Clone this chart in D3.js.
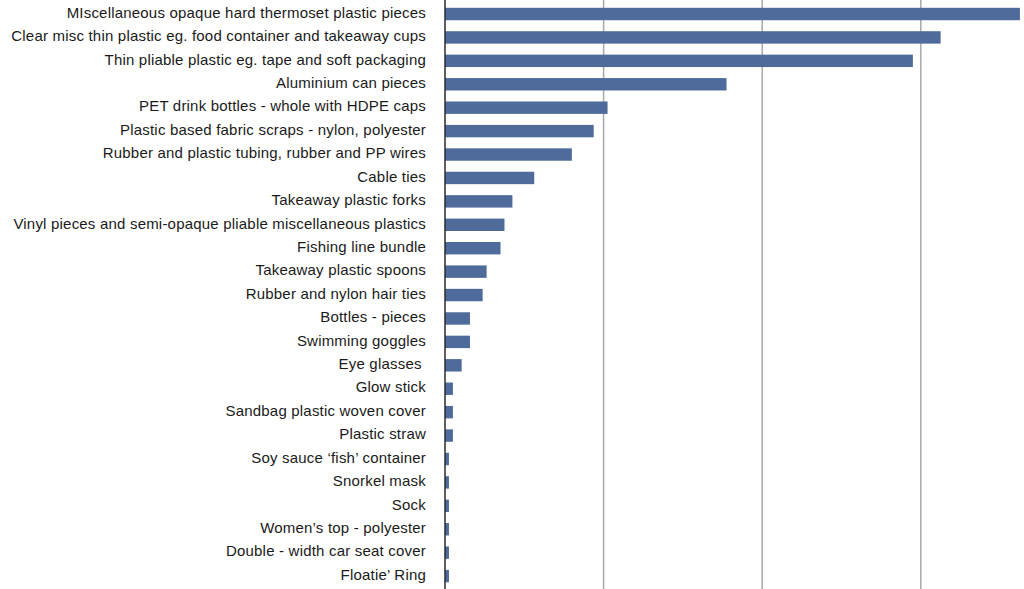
<!DOCTYPE html>
<html>
<head>
<meta charset="utf-8">
<script src="https://cdn.jsdelivr.net/npm/d3@7"></script>
<style>
  html, body { margin: 0; padding: 0; background: #fff; }
  svg { display: block; }
  .label { font-family: "Liberation Sans", Arial, sans-serif; font-size: 15px; letter-spacing: 0.2px; fill: #1a1a1a; white-space: pre; }
</style>
</head>
<body>
<div id="chart"></div>
<script>
const categories = [
  "MIscellaneous opaque hard thermoset plastic pieces",
  "Clear misc thin plastic eg. food container and takeaway cups",
  "Thin pliable plastic eg. tape and soft packaging",
  "Aluminium can pieces",
  "PET drink bottles - whole with HDPE caps",
  "Plastic based fabric scraps - nylon, polyester",
  "Rubber and plastic tubing, rubber and PP wires",
  "Cable ties",
  "Takeaway plastic forks",
  "Vinyl pieces and semi-opaque pliable miscellaneous plastics",
  "Fishing line bundle",
  "Takeaway plastic spoons",
  "Rubber and nylon hair ties",
  "Bottles - pieces",
  "Swimming goggles",
  "Eye glasses ",
  "Glow stick",
  "Sandbag plastic woven cover",
  "Plastic straw",
  "Soy sauce \u2018fish\u2019 container",
  "Snorkel mask",
  "Sock",
  "Women\u2019s top - polyester",
  "Double - width car seat cover",
  "Floatie\u2019 Ring"
];
const counts = [145, 125, 118, 71, 41, 37.5, 32, 22.5, 17, 15, 14, 10.5, 9.5, 6.3, 6.3, 4.2, 2, 2, 2, 1, 1, 1, 1, 1, 1];
const gridTicks = [40, 80, 120, 160];

const width = 1024, height = 589;

const svg = d3.select("#chart").append("svg")
  .attr("width", width)
  .attr("height", height);

const x = d3.scaleLinear().domain([0, 160]).range([445, 1079.4]);
const y = d3.scaleBand()
  .domain(categories)
  .range([2.3, 587.8])
  .paddingInner(0.47)
  .paddingOuter(0.235);

// vertical gridlines
svg.append("g")
  .selectAll("line")
  .data(gridTicks)
  .join("line")
  .attr("x1", (d) => x(d))
  .attr("x2", (d) => x(d))
  .attr("y1", 0)
  .attr("y2", height)
  .attr("stroke", "#a8a8a8")
  .attr("stroke-width", 1.5);

// bars
svg.append("g")
  .selectAll("rect")
  .data(counts)
  .join("rect")
  .attr("x", x(0))
  .attr("y", (d, i) => y(categories[i]))
  .attr("width", (d) => x(d) - x(0))
  .attr("height", y.bandwidth())
  .attr("fill", "#4e6b9b");

// category axis line
svg.append("line")
  .attr("x1", x(0))
  .attr("x2", x(0))
  .attr("y1", 0)
  .attr("y2", height)
  .attr("stroke", "#2a2a2a")
  .attr("stroke-width", 1.5);

// labels
svg.append("g")
  .selectAll("text")
  .data(categories)
  .join("text")
  .attr("class", "label")
  .attr("x", 426)
  .attr("y", (d) => y(d) + y.bandwidth() / 2 - 1.5)
  .attr("dy", "0.35em")
  .attr("text-anchor", "end")
  .text((d) => d);
</script>
</body>
</html>
